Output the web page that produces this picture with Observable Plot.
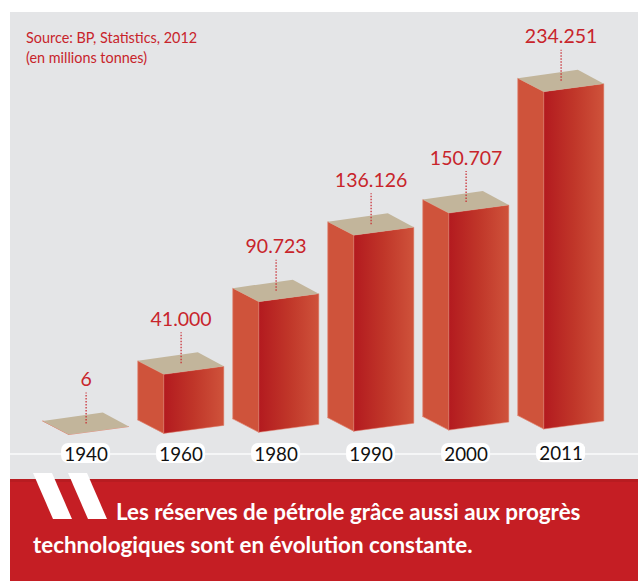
<!DOCTYPE html>
<html><head><meta charset="utf-8">
<script src="https://cdn.jsdelivr.net/npm/d3@7"></script>
<script src="https://cdn.jsdelivr.net/npm/@observablehq/plot@0.6"></script>
<style>
html,body{margin:0;padding:0;background:#fff;overflow:hidden}
#page{position:relative;width:638px;height:581px;font-family:Lato,sans-serif}
#panel{position:absolute;left:10px;top:12px;width:628px;height:467px;background:#e4e5e7}
#chart{position:absolute;left:0;top:0}
#foot{position:absolute;left:10px;top:479px;width:628px;height:102px;background:#c51e24;border-top:3px solid #b81c21;box-sizing:border-box}
.q{position:absolute;top:473px;width:40px;height:46px;background:#fff;clip-path:polygon(0 0,19px 0,39px 100%,20px 100%)}
#l1,#l2{position:absolute;color:#fff;font-weight:700;font-size:22.4px;white-space:nowrap;line-height:26px}
#l1{left:116px;top:499px}
#l2{left:33px;top:532px}
#src{position:absolute;left:26px;top:27.5px;color:#c8242b;font-size:14.4px;line-height:20.5px}
</style></head><body>
<div id="page">
<div id="panel"></div>
<div id="chart"></div>
<div id="foot"></div>
<div class="q" style="left:33px"></div>
<div class="q" style="left:68px"></div>
<div id="l1">Les réserves de pétrole grâce aussi aux progrès</div>
<div id="l2">technologiques sont en évolution constante.</div>
<div id="src">Source: BP, Statistics, 2012<br>(en millions tonnes)</div>
</div>
<script>
const years = ["1940","1960","1980","1990","2000","2011"];
const reserves = [6, 41000, 90723, 136126, 150707, 234251];
const valueLabels = ["6","41.000","90.723","136.126","150.707","234.251"];

const W = 638, H = 479;
const slot = 95, x0 = 42.3;          // pixels per category, left edge of the first box
const k = 0.00144, base = 420.5;     // pixels per unit of value, y of value 0
const v = px => px / k;              // pixels -> value units
const s = px => px / slot;           // pixels -> slot units
const drift = v(1.1);                // the floor tilts slightly upward to the right

const faces = {left: [], right: [], top: []};
reserves.forEach((r, i) => {
  const y0 = drift * i, y1 = y0 + r;
  const pts = (name, list) => list.forEach(([x, y]) => faces[name].push({i, x: i + x, y}));
  const d = s(26), w = s(60);
  pts("left",  [[0,y0],[d,y0-v(13.5)],[d,y1-v(13.5)],[0,y1],[0,y0]]);
  pts("right", [[d,y0-v(13.5)],[d+w,y0-v(5.5)],[d+w,y1-v(5.5)],[d,y1-v(13.5)],[d,y0-v(13.5)]]);
  pts("top",   [[0,y1],[d,y1-v(13.5)],[d+w,y1-v(5.5)],[w,y1+v(8.5)],[0,y1]]);
});

const rows = reserves.map((r, i) => ({
  i, year: years[i], label: valueLabels[i],
  cx: i + s(43.3), top: drift * i + r + v(-3)
}));

const chart = Plot.plot({
  width: W, height: H,
  margin: 0,
  style: {background: "transparent", overflow: "visible"},
  x: {type: "linear", domain: [-x0 / slot, (W - x0) / slot], range: [0, W], axis: null},
  y: {type: "linear", domain: [v(base - H), v(base)], range: [H, 0], axis: null},
  marks: [
    Plot.ruleY([v(base - 453.5)], {x1: -x0 / slot + s(10), x2: (W - x0) / slot, stroke: "#f5f6f7", strokeWidth: 2}),
    Plot.line(faces.left,  {x: "x", y: "y", z: "i", fill: "#cf533b", stroke: "#e0806c", strokeWidth: 0.7}),
    Plot.line(faces.right, {x: "x", y: "y", z: "i", fill: "url(#faceGrad)", stroke: "#e0806c", strokeWidth: 0.5}),
    Plot.line(faces.top,   {x: "x", y: "y", z: "i", fill: "#c2b59b", stroke: "none"}),
    Plot.ruleX(rows, {x: "cx", y1: "top", y2: d => d.top + v(31), stroke: "#c8242b", strokeWidth: 1.2, strokeDasharray: "1.5 1.5"}),
    Plot.text(rows, {x: "cx", y: d => d.top + v(44), text: "label", fill: "#c8242b", fontSize: 19.5, fontFamily: "Lato, sans-serif"}),
    Plot.rect(rows, {
      x1: d => d.cx - s(24.5), x2: d => d.cx + s(24.5),
      y1: d => v(base - 463) + (d.i === 5 ? v(.7) : 0), y2: d => v(base - 443) + (d.i === 5 ? v(.7) : 0),
      fill: "#fff", rx: 7
    }),
    Plot.text(rows, {x: "cx", y: d => v(base - 454) + (d.i === 5 ? v(.7) : 0), text: "year", fill: "#111", fontSize: 18.8, fontFamily: "Lato, sans-serif"})
  ]
});

const defs = d3.select(chart).insert("defs", ":first-child");
const g = defs.append("linearGradient").attr("id", "faceGrad").attr("x1", 0).attr("x2", 1).attr("y1", 0).attr("y2", 0);
[[0, "#b31a1f"], [0.5, "#c03629"], [1, "#cf533b"]].forEach(([o, c]) => g.append("stop").attr("offset", o).attr("stop-color", c));
document.getElementById("chart").appendChild(chart);
</script>
</body></html>
